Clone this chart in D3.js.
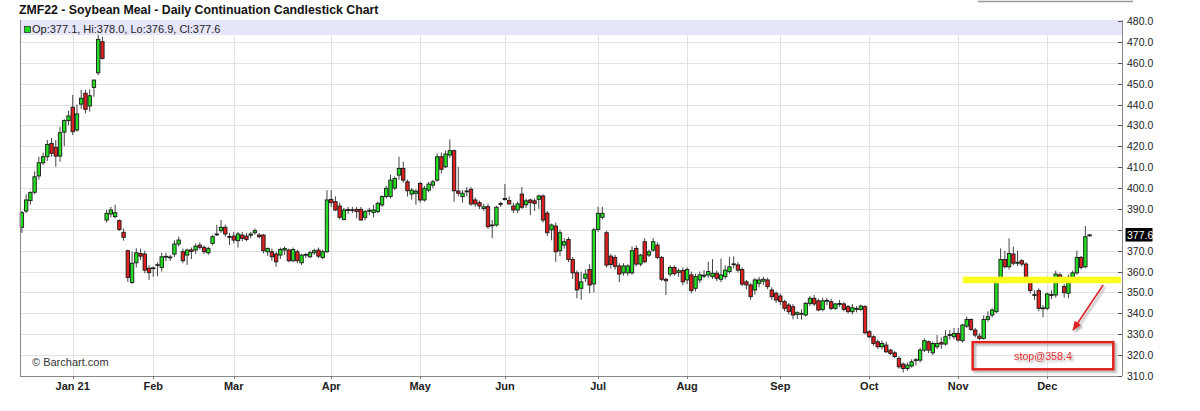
<!DOCTYPE html>
<html>
<head>
<meta charset="utf-8">
<script src="https://cdn.jsdelivr.net/npm/d3@7"></script>
<style>
body { margin: 0; background: #fff; }
svg { display: block; font-family: "Liberation Sans", Arial, sans-serif; }
</style>
</head>
<body>
<div id="chart"></div>
<script>
// daily candles per month, [open, high, low, close]
var dec20 = [[381.2,389,378.5,388.2],[389,397,388,394.3],[394,398.5,392,397.8],[398,408,397,405.4],[405.8,415,404,412.1],[412.1,417,411,415],
	[415,423,413,420.9],[421.4,424,415,416.6],[419.5,423,410.2,415.3],[415.3,429.4,412.6,426.5],[426.8,433,420,432.3],[432.3,437,430,434.5]];
var jan21 = [[438.7,444.6,425.4,427],[427.8,440,427,435.5],[440.2,447,438,443],[445.4,447,435.8,437.7],[439.3,447.3,436.6,444.2],[448.2,452,443.7,451.7],
	[455.2,473.3,454,471.2],[470.1,472.5,461.5,462.1],[384.7,389.5,383.5,387.9],[387.6,391,386,389.5],[386.3,392,385.5,388.2],[384.4,385,379.5,380.2],
	[378.8,380.6,374.8,376.4],[370,370.5,355,357.2],[354.8,369.5,354,364],[364.2,371.2,362,369],[368.7,371,365.5,367.4],[368.4,370,359.2,360.7],[361.6,363,356,359.5]];
var feb21 = [[361.5,362.5,357.5,361.8],[363,364.5,357.8,363.3],[362,369,360,367.1],[367,369,365,367.3],[366.8,368,365,367],[368.4,375,367,373.2],
	[373.2,376.7,372,375.1],[369.5,371,364,365.2],[367.9,371,363.2,370.3],[370.4,371.5,366,369.6],[370.3,373.5,368.5,372.2],[372.7,374,370.5,371.6],
	[371.6,372.5,368.5,369.5],[369,372,368,371],[373.5,377.5,372.5,376.7],[377.6,382.3,377,378],[379.6,384.7,378.5,381.2],[381.2,382.5,376.8,378],[376.8,378.5,372.7,376.5]];
var mar21 = [[377,379,373.5,375.1],[374.8,379,371.5,378],[377.5,379,374.5,375.9],[377,378.5,374.5,375.4],[377.4,379,376,378],[378.6,380.7,377.7,379.6],
	[377.5,378.5,376,376.7],[377.5,378,368.7,370],[369.5,371.5,367.5,371.1],[369.5,371,365.2,367.1],[368.4,369.5,362.3,364.7],[367.9,371.5,366,370.6],
	[370.3,372,368,371.1],[370.3,371,364.5,365.2],[365.2,371.5,364.5,370.6],[369.5,370.5,364,365.2],[364.2,368.5,363.2,367.9],[368,369,366.5,368.2],
	[367.1,370,366.5,369],[369,371,368,370],[370.3,371.5,366.5,367.4],[366.8,370.5,366,369.5],[369.5,399,369,394.3]];
var apr21 = [[394.6,399,391,393],[393.5,396,389,389.5],[391.4,393,385,386],[385,390.5,384.5,389.5],[389.3,391,387.6,389.7],[389.6,391,388,389.4],
	[389.8,391,385.5,388.7],[389.8,391,384.5,384.7],[386,389.5,384.5,388.7],[389,390.5,387,389.3],[388.3,392,386,389.5],[388.7,393.5,388,392.7],
	[391.9,396.5,391,395.9],[395.9,401,395,399.9],[396,406.5,395,403.8],[400,405.5,399,404.6],[406.2,415,404,409.4],[409.4,412.6,402.5,403.8],
	[403,404,396,398.7],[397.1,400,394.5,399],[397.5,399.5,392,398.5]];
var may21 = [[402.2,403,393,394.3],[394.3,401,393.5,399.9],[399,403,398,401.9],[401.4,404,400,403],[403.8,416.6,403,415],[415,417,407,409],
	[410.2,418,409.5,416.3],[415.8,423.3,414.5,417.9],[417.9,418.5,393.5,398.7],[398.6,410,396,397.5],[395.9,399,393,397.5],[398.4,400.5,396,398.6],
	[399.4,400.5,391.5,392.4],[394.3,395.5,391,392.4],[393,394,390,391.4],[390.2,392.5,389,391],[391.1,392.5,380.5,381.5],[382,384.7,376,382.3],
	[382.3,391.5,381.5,390.8],[392.3,393.5,391,392.6]];
var jun21 = [[394.5,402,394,395],[394,396,392,392.4],[391.4,393,388,389.5],[389.5,393.5,388,392.4],[397.1,400.5,390,390.8],[392,395,390.5,393.9],
	[394.3,395,387,393],[393.9,395,389,392.6],[394.6,397,390,396.2],[396.2,397,383.5,384.7],[388,389,377,378.6],[380,383,375,382.3],
	[381.8,383.5,364.7,369.5],[370,380,367.4,378.6],[372.7,376,371,374.3],[375.4,376.5,364.5,365.8],[365.8,367,356.5,359.4],[359.4,360.5,347.2,351.2],
	[352,360,346.5,355.1],[356.8,361,355,358.8],[361,363.5,349.6,353.6],[354.1,381,350,380]];
var jul21 = [[380.2,391.1,379,387.9],[386,391,385,387.9],[378.6,379.5,362,363.1],[367.4,368.5,361.5,363.4],[366.8,368,361,362.5],[362.7,364,355,358.8],
	[359.4,364,358,362.7],[359.4,363.5,358,362.7],[359.4,372,358.5,370],[371.1,372.5,362.5,363.6],[363.6,368.5,362.5,367.9],[374.3,376,364,364.7],
	[367.9,370.5,367,369.5],[370.3,376,369.5,374.3],[372.7,374,366,366.8],[366.8,367.5,355.5,356.3],[356.3,357,348.8,355.6],[358.8,363,357.5,362],
	[362,363,358,359],[359.6,361.5,357.5,360.4],[360.5,362,353.5,355.1]];
var aug21 = [[356,362,354,361],[358.4,360,349.6,350.9],[352,359,350.5,357.6],[356,360,354.5,358.4],[357.8,360.7,356.8,358.3],[358.4,364.7,357,360],
	[357.6,366,356.5,359.2],[359.2,360.5,355.5,356.8],[356.3,366.3,355,358.4],[357.6,363,356.5,360.7],[360,367.1,359,362.3],[363.4,367.3,361.5,363.7],
	[363.2,364.5,359.5,360.7],[361,362,353,354],[355.1,356,351.5,353.6],[353.6,354.5,346.5,348],[351.2,357,349,356],[354.4,357.5,352.5,356],
	[355.4,357.5,353.5,356.3],[356,357,351.5,352.8],[351.2,352.5,346.5,348],[349.6,350.5,345,346.4]];
var sep21 = [[348.3,349.5,344,345.6],[345.6,346.5,341,342.4],[344,345,339.5,340.8],[343.2,344.5,337.1,339.2],[339.5,341,337.3,340.3],[339.6,342,337,340],
	[339.2,345.5,338.5,344.8],[344.8,348.3,343.5,347.2],[347.2,348.8,343.5,344.5],[346,347,341,341.6],[341.9,347.5,341,346],[345.8,347.4,343.8,346.2],
	[345.6,347,341.5,342.4],[342.4,345,341.8,344.5],[344.3,346.5,343,344.7],[344.5,345.5,341,341.9],[343.2,344,340,340.8],[340.8,344.5,339.5,342.7],
	[342,343.5,340.5,342.3],[341.9,344.2,341,343.5],[343.2,344,330,330.7]];
var oct21 = [[331.2,332,328,328.8],[328.8,329.5,324.5,325.6],[326.4,327.5,323,324],[324,327,322.7,325.6],[324.8,326.4,321,321.6],[322.4,323,320,320.8],
	[321.1,322,318.5,319.3],[318.4,319.5,313.5,314.4],[315.7,316.5,311.6,313.6],[313.6,316.5,312.5,315.2],[314.8,318,314,316.8],[317.4,318.5,315,317.8],
	[317.6,323.5,316.5,322.4],[322.4,328,321.5,326.9],[326.4,327,321,322.4],[321.1,326.5,320,325.6],[324,329.6,323,325.6],[326,328.5,323,325.3],
	[325.3,332,324.5,328.8],[329.4,332,327.5,329.8],[328.8,333,327.5,330.4]];
var nov21 = [[330.4,333,326.5,327.2],[326.9,335,326,334.4],[333.9,338.5,333,337.1],[337.1,337.5,331.5,332.3],[332,333,328.5,329.6],[329.1,330.5,327.2,328],
	[328,339,327.5,337.1],[337.1,341,336,338.4],[339.2,342.5,338,341.6],[340.8,355.5,340,355.1],[355.1,371.1,354.5,365.8],[365.8,370,361.5,362.3],
	[362.3,375.9,361,368.7],[368.4,372,363,364],[364,370,362.7,364.5],[365.2,366,362.5,363.6],[363.6,364.5,354.5,355.6],[356.3,357,349.5,350.9],
	[348.6,351,346.5,349],[350.9,352,341,342.4],[342.3,344,338.1,342.6]];
var dec21 = [[342.4,350,341.5,349.3],[349,351,346.8,348.6],[348.8,360.4,347.5,358.8],[358.4,359.5,354.5,355.6],[352.8,354,347.5,349.9],[349.6,358.5,347.2,357.3],
	[357.3,360.5,356,359.4],[359.4,370,358.5,366.8],[366.8,367.5,361,362],[362.3,381.8,361.5,376.7],[377.1,378.0,376.9,377.6]];

var monthLabels = ['', 'Jan 21', 'Feb', 'Mar', 'Apr', 'May', 'Jun', 'Jul', 'Aug', 'Sep', 'Oct', 'Nov', 'Dec'];
var monthRows = [dec20, jan21, feb21, mar21, apr21, may21, jun21, jul21, aug21, sep21, oct21, nov21, dec21];
var yTicks = d3.range(310, 481, 10);

var titleText = 'ZMF22 - Soybean Meal - Daily Continuation Candlestick Chart';
var stopLevel = 356;          // yellow line
var stopLabel = 'stop@358.4';

var W = 1200, H = 411;
var plotL = 20, plotR = 1122, plotT = 20, plotB = 376;

var candles = [], monthStarts = [];
monthRows.forEach(function(rows, m) {
	monthStarts.push({ label: monthLabels[m], i: candles.length });
	rows.forEach(function(r) {
		candles.push({ i: candles.length, o: r[0], h: r[1], l: r[2], c: r[3] });
	});
});
var last = candles[candles.length - 1];
var labelled = monthStarts.filter(function(d) { return d.label; });

var x = d3.scaleLinear().domain([0, candles.length - 1]).range([21.9, 1089.6]);
var y = d3.scaleLinear().domain([310, 480]).range([plotB, 21]);

var svg = d3.select('#chart').append('svg')
	.attr('width', W)
	.attr('height', H);

var defs = svg.append('defs');
defs.append('filter').attr('id', 'shadow')
	.attr('x', '-20%').attr('y', '-40%').attr('width', '140%').attr('height', '180%')
	.append('feDropShadow')
	.attr('dx', 2).attr('dy', 2).attr('stdDeviation', 1.3)
	.attr('flood-color', '#777').attr('flood-opacity', 0.6);
defs.append('marker').attr('id', 'head')
	.attr('viewBox', '0 0 10 10').attr('refX', 9).attr('refY', 5)
	.attr('markerWidth', 6).attr('markerHeight', 6).attr('orient', 'auto')
	.append('path').attr('d', 'M0,1 L10,5 L0,9 z').attr('fill', '#e02424');

// title
svg.append('text')
	.attr('x', 19).attr('y', 14)
	.style('font-size', '12.3px').style('font-weight', 'bold').style('fill', '#111')
	.text(titleText);

// box outline at top right
svg.append('line')
	.attr('x1', 978).attr('x2', 1133).attr('y1', 1.5).attr('y2', 1.5)
	.style('stroke', '#999').style('stroke-width', 1.5);

// grid
svg.append('g').selectAll('line').data(yTicks).enter().append('line')
	.attr('x1', plotL).attr('x2', plotR)
	.attr('y1', function(d) { return Math.round(y(d)) + 0.5; })
	.attr('y2', function(d) { return Math.round(y(d)) + 0.5; })
	.style('stroke', '#e2e2e2');
svg.append('g').selectAll('line').data(labelled).enter().append('line')
	.attr('x1', function(d) { return Math.round(x(d.i)) + 0.5; })
	.attr('x2', function(d) { return Math.round(x(d.i)) + 0.5; })
	.attr('y1', plotT).attr('y2', plotB)
	.style('stroke', '#e2e2e2');

// legend band
svg.append('rect')
	.attr('x', plotL).attr('y', plotT).attr('width', plotR - plotL).attr('height', 15)
	.style('fill', '#e6e6fa');
svg.append('rect')
	.attr('x', 24.5).attr('y', 26.5).attr('width', 6).attr('height', 6)
	.style('fill', '#22dd22').style('stroke', '#333').style('stroke-width', 0.8);
svg.append('text')
	.attr('x', 32).attr('y', 33)
	.style('font-size', '11px').style('fill', '#222')
	.text('Op:' + last.o.toFixed(1) + ', Hi:' + last.h.toFixed(1) + ', Lo:' + last.l.toFixed(1) + ', Cl:' + last.c.toFixed(1));

// candles
var bw = 3.4;
var g = svg.append('g');
g.selectAll('.wick').data(candles).enter().append('line')
	.attr('class', 'wick')
	.attr('x1', function(d) { return x(d.i); })
	.attr('x2', function(d) { return x(d.i); })
	.attr('y1', function(d) { return y(d.h); })
	.attr('y2', function(d) { return y(d.l); })
	.style('stroke', '#444').style('stroke-width', 1);
g.selectAll('.body').data(candles).enter().append('rect')
	.attr('class', 'body')
	.attr('x', function(d) { return x(d.i) - bw / 2; })
	.attr('y', function(d) { return y(Math.max(d.o, d.c)); })
	.attr('width', bw)
	.attr('height', function(d) { return Math.max(0.8, Math.abs(y(d.o) - y(d.c))); })
	.style('fill', function(d) { return d.c >= d.o ? '#22dd22' : '#dd1f1f'; })
	.style('stroke', '#1a1a1a').style('stroke-width', 0.9);

// frame and axes
svg.append('line').attr('x1', plotL + 0.5).attr('x2', plotL + 0.5).attr('y1', plotT).attr('y2', plotB)
	.style('stroke', '#888');
svg.append('line').attr('x1', plotL).attr('x2', plotR).attr('y1', plotB + 0.5).attr('y2', plotB + 0.5)
	.style('stroke', '#888');
svg.append('line').attr('x1', plotR + 0.5).attr('x2', plotR + 0.5).attr('y1', plotT).attr('y2', plotB)
	.style('stroke', '#888');

// labels hidden behind the last price tag are dropped
var shownTicks = yTicks.filter(function(d) { return Math.abs(y(d) - y(last.c)) > 9; });
var ya = svg.append('g');
ya.selectAll('line').data(yTicks).enter().append('line')
	.attr('x1', plotR - 4).attr('x2', plotR)
	.attr('y1', function(d) { return Math.round(y(d)) + 0.5; })
	.attr('y2', function(d) { return Math.round(y(d)) + 0.5; })
	.style('stroke', '#555');
ya.selectAll('text').data(shownTicks).enter().append('text')
	.attr('x', plotR + 5)
	.attr('y', function(d) { return y(d) + 4; })
	.style('font-size', '10.5px').style('fill', '#222')
	.text(function(d) { return d.toFixed(1); });

var xa = svg.append('g');
xa.selectAll('line').data(labelled).enter().append('line')
	.attr('x1', function(d) { return Math.round(x(d.i)) + 0.5; })
	.attr('x2', function(d) { return Math.round(x(d.i)) + 0.5; })
	.attr('y1', plotB).attr('y2', plotB + 3)
	.style('stroke', '#777');
xa.selectAll('text').data(labelled).enter().append('text')
	.attr('x', function(d) { return x(d.i); })
	.attr('y', 390)
	.attr('text-anchor', 'middle')
	.style('font-size', '11px').style('font-weight', 'bold').style('fill', '#222')
	.text(function(d) { return d.label; });

// last price tag
svg.append('rect')
	.attr('x', plotR + 3.5).attr('y', y(last.c) - 6.8).attr('width', 27).attr('height', 13.5)
	.style('fill', '#000');
svg.append('text')
	.attr('x', plotR + 5).attr('y', y(last.c) + 4)
	.style('font-size', '10.5px').style('fill', '#fff')
	.text(last.c.toFixed(1));

svg.append('text')
	.attr('x', 32).attr('y', 366)
	.style('font-size', '11px').style('fill', '#333')
	.text('\u00a9 Barchart.com');

// annotations
svg.append('rect')
	.attr('x', x(222.1)).attr('y', y(stopLevel) - 3.3)
	.attr('width', x(259.4) - x(222.1)).attr('height', 6.6)
	.style('fill', '#ffff1e');

svg.append('line')
	.attr('x1', x(255.2)).attr('y1', y(353.6))
	.attr('x2', x(248.1)).attr('y2', y(332))
	.attr('marker-end', 'url(#head)')
	.attr('filter', 'url(#shadow)')
	.style('stroke', '#e02424').style('stroke-width', 1.6);

svg.append('rect')
	.attr('x', x(224.4)).attr('y', y(326.2))
	.attr('width', x(257.6) - x(224.4)).attr('height', y(313.2) - y(326.2))
	.attr('filter', 'url(#shadow)')
	.style('fill', 'none').style('stroke', '#e0201b').style('stroke-width', 2.5);

svg.append('text')
	.attr('x', (x(224.4) + x(257.6)) / 2).attr('y', 360)
	.attr('text-anchor', 'middle')
	.attr('filter', 'url(#shadow)')
	.style('font-size', '10.7px').style('fill', '#e83030')
	.text(stopLabel);
</script>
</body>
</html>
